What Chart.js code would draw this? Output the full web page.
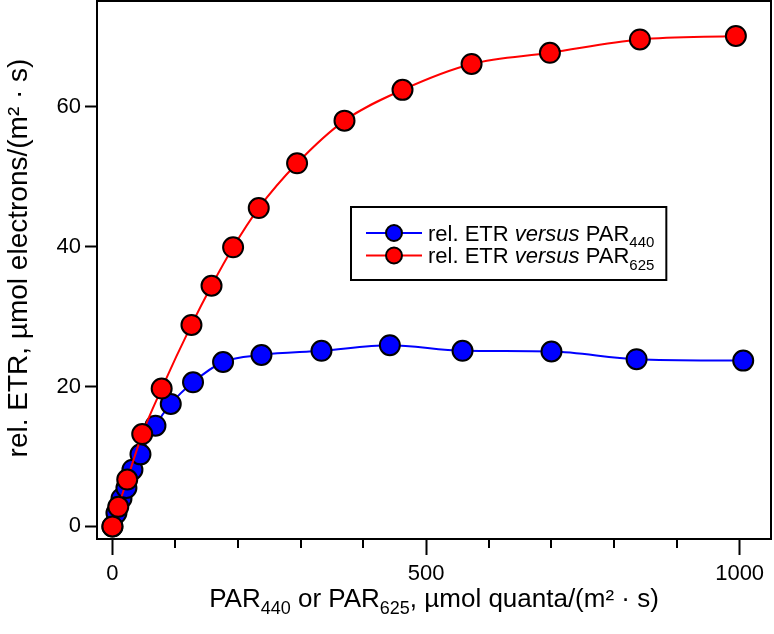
<!DOCTYPE html>
<html>
<head>
<meta charset="utf-8">
<script src="https://cdn.jsdelivr.net/npm/chart.js@4"></script>
<style>
  body { margin: 0; background: #fff; }
  canvas { display: block; }
</style>
</head>
<body>
<canvas id="etr" width="774" height="634"></canvas>
<script>
// PAR (µmol quanta/(m²·s)) and rel. ETR
const par440 = [0, 6.4, 14.4, 22.3, 31.9, 44.7, 68.6, 93, 128.5, 176.4, 237.6, 333.3, 442.3, 558.2, 700, 835.7, 1005.7];
const etr440 = [0, 1.9, 4.0, 5.5, 8.1, 10.3, 14.4, 17.5, 20.6, 23.5, 24.5, 25.1, 25.9, 25.1, 25.0, 23.9, 23.7];
const par625 = [0, 9.3, 23.6, 47.5, 78.5, 126, 158, 192.4, 233.3, 294.4, 370, 462.5, 572.6, 697.5, 841, 994];
const etr625 = [0, 2.8, 6.7, 13.2, 19.7, 28.8, 34.4, 39.9, 45.5, 51.9, 58, 62.4, 66.1, 67.7, 69.6, 70.1];

const xTicks = [0, 500, 1000];
const xMinorTicks = [100, 200, 300, 400, 600, 700, 800, 900];
const yTicks = [0, 20, 40, 60];

const FONT = 'Arial, "Liberation Sans", sans-serif';

function toPoints(xs, ys) {
  return xs.map(function(x, i) { return { x: x, y: ys[i] }; });
}

// text with italic / subscript pieces, drawn from (x, baseline)
function richText(ctx, parts, x, y, size, measureOnly) {
  let cx = x;
  parts.forEach(function(p) {
    const s = p.sub ? Math.round(size * 0.68) : size;
    ctx.font = (p.it ? 'italic ' : '') + s + 'px ' + FONT;
    const dy = p.sub ? size * 0.28 : 0;
    if (!measureOnly) ctx.fillText(p.t, cx, y + dy);
    cx += ctx.measureText(p.t).width;
  });
  return cx - x;
}

const frameAndTicks = {
  id: 'frameAndTicks',
  afterDraw(chart) {
    const ctx = chart.ctx;
    const a = chart.chartArea;
    const xs = chart.scales.x;
    ctx.save();
    ctx.strokeStyle = '#000';
    ctx.lineWidth = 2;
    ctx.strokeRect(a.left, a.top, a.right - a.left, a.bottom - a.top);
    // minor ticks on the x axis
    xMinorTicks.forEach(function(v) {
      const px = Math.round(xs.getPixelForValue(v));
      ctx.beginPath();
      ctx.moveTo(px, a.bottom);
      ctx.lineTo(px, a.bottom + 9);
      ctx.stroke();
    });
    ctx.restore();
  }
};

const axisTitles = {
  id: 'axisTitles',
  afterDraw(chart) {
    const ctx = chart.ctx;
    const a = chart.chartArea;
    ctx.save();
    ctx.fillStyle = '#000';
    ctx.textBaseline = 'alphabetic';
    ctx.textAlign = 'left';
    const xParts = [
      { t: 'PAR' }, { t: '440', sub: true }, { t: ' or PAR' }, { t: '625', sub: true },
      { t: ', µmol quanta/(m² · s)' }
    ];
    const w = richText(ctx, xParts, 0, 0, 26, true);
    richText(ctx, xParts, (a.left + a.right) / 2 - w / 2, 607, 26);

    const yParts = [{ t: 'rel. ETR, µmol electrons/(m² · s)' }];
    const wy = richText(ctx, yParts, 0, 0, 28, true);
    ctx.translate(27, 258);
    ctx.rotate(-Math.PI / 2);
    richText(ctx, yParts, -wy / 2, 0, 28);
    ctx.restore();
  }
};

const boxLegend = {
  id: 'boxLegend',
  afterDraw(chart) {
    const ctx = chart.ctx;
    const size = 22;
    const rows = [
      { color: '#0000ff', parts: [{ t: 'rel. ETR ' }, { t: 'versus', it: true }, { t: ' PAR' }, { t: '440', sub: true }] },
      { color: '#ff0000', parts: [{ t: 'rel. ETR ' }, { t: 'versus', it: true }, { t: ' PAR' }, { t: '625', sub: true }] }
    ];
    const left = 351, top = 207, height = 73, textX = 428;
    ctx.save();
    let maxW = 0;
    rows.forEach(function(r) { maxW = Math.max(maxW, richText(ctx, r.parts, 0, 0, size, true)); });
    ctx.strokeStyle = '#000';
    ctx.lineWidth = 2;
    ctx.strokeRect(left, top, textX + maxW + 12 - left, height);
    rows.forEach(function(r, i) {
      const cy = 233 + i * 22.5;
      ctx.strokeStyle = r.color;
      ctx.lineWidth = 2;
      ctx.beginPath();
      ctx.moveTo(366, cy);
      ctx.lineTo(422, cy);
      ctx.stroke();
      ctx.beginPath();
      ctx.arc(394, cy, 8, 0, Math.PI * 2);
      ctx.fillStyle = r.color;
      ctx.fill();
      ctx.strokeStyle = '#000';
      ctx.stroke();
      ctx.fillStyle = '#000';
      ctx.textBaseline = 'alphabetic';
      richText(ctx, r.parts, textX, cy + size * 0.36, size);
    });
    ctx.restore();
  }
};

const tickFont = { family: FONT, size: 22 };

new Chart(document.getElementById('etr'), {
  type: 'scatter',
  data: {
    datasets: [
      {
        label: 'rel. ETR versus PAR440',
        data: toPoints(par440, etr440),
        showLine: true,
        borderColor: '#0000ff',
        borderWidth: 2,
        cubicInterpolationMode: 'monotone',
        pointRadius: 10,
        pointBorderWidth: 2,
        pointBorderColor: '#000',
        pointBackgroundColor: '#0000ff',
        order: 1
      },
      {
        label: 'rel. ETR versus PAR625',
        data: toPoints(par625, etr625),
        showLine: true,
        borderColor: '#ff0000',
        borderWidth: 2,
        cubicInterpolationMode: 'monotone',
        pointRadius: 10,
        pointBorderWidth: 2,
        pointBorderColor: '#000',
        pointBackgroundColor: '#ff0000',
        order: 0
      }
    ]
  },
  options: {
    responsive: false,
    animation: false,
    events: [],
    layout: { autoPadding: false, padding: { top: 1, right: 3, left: 0, bottom: 0 } },
    plugins: {
      legend: { display: false },
      tooltip: { enabled: false }
    },
    scales: {
      x: {
        type: 'linear',
        min: -24.6,
        max: 1050,
        afterBuildTicks: function(axis) { axis.ticks = xTicks.map(function(v) { return { value: v }; }); },
        afterFit: function(axis) {
          axis.height = 95;
          axis.paddingLeft = 0;
          axis.paddingRight = 0;
        },
        grid: { drawOnChartArea: false, drawTicks: true, tickLength: 16, tickWidth: 2, tickColor: '#000' },
        border: { display: false },
        ticks: { font: tickFont, color: '#000', padding: 6, maxRotation: 0, callback: function(v) { return String(v); } }
      },
      y: {
        type: 'linear',
        min: -1.8,
        max: 75.1,
        afterBuildTicks: function(axis) { axis.ticks = yTicks.map(function(v) { return { value: v }; }); },
        afterFit: function(axis) {
          axis.width = 97;
          axis.paddingTop = 0;
          axis.paddingBottom = 0;
        },
        grid: { drawOnChartArea: false, drawTicks: true, tickLength: 12, tickWidth: 2, tickColor: '#000' },
        border: { display: false },
        ticks: { font: tickFont, color: '#000', padding: 4, callback: function(v) { return String(v); } }
      }
    }
  },
  plugins: [frameAndTicks, axisTitles, boxLegend]
});
</script>
</body>
</html>
